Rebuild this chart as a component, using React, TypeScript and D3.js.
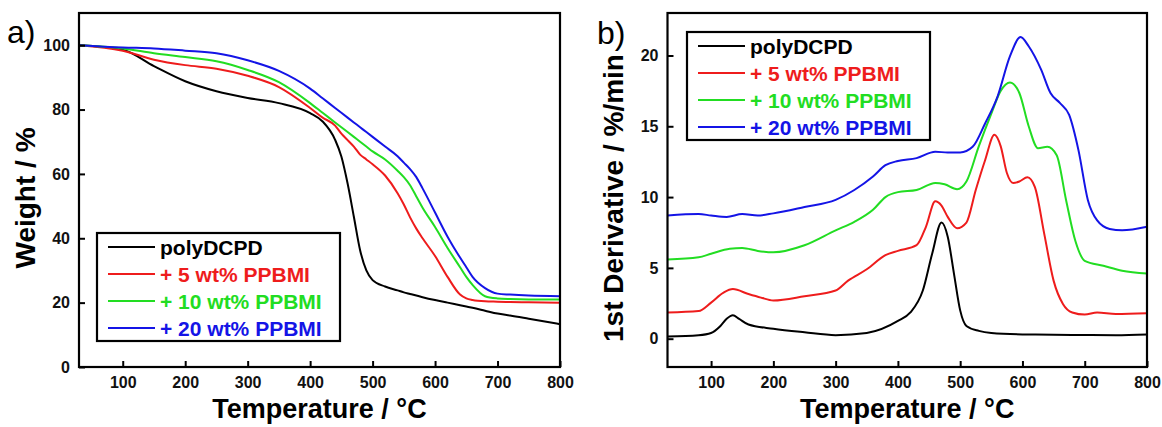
import * as d3 from "d3";
import { useEffect, useRef } from "react";

// TGA (weight %) — temperature in °C
const tgaTemp = [30, 100, 150, 200, 250, 300, 350, 400, 420, 440, 450, 460, 470, 480, 490, 500, 520, 540, 550, 560, 570, 580, 600, 620, 640, 650, 660, 680, 700, 720, 750, 800];
const tgaPoly = [100, 98.6, 93.5, 88.8, 85.7, 83.6, 82, 78.9, 76.3, 70.6, 65.4, 57, 46.7, 36.3, 30, 27, 25, 23.8, 23.2, 22.7, 22.2, 21.7, 20.8, 20, 19.2, 18.8, 18.4, 17.5, 16.6, 16, 15, 13.3];
const tga5 = [100, 98.3, 95.5, 93.8, 92.7, 90.5, 87, 80.5, 77.5, 75, 72.5, 70.5, 68.5, 66, 64.5, 63, 59.5, 54, 50.5, 46.5, 43, 40, 34.5, 28, 22.5, 21.3, 20.8, 20.4, 20.3, 20.2, 20.1, 20];
const tga10 = [100, 99, 97.5, 96.3, 95, 92.3, 88.5, 82, 79, 76, 74.5, 73, 71.5, 70, 68.5, 67, 64.5, 61, 59, 56.5, 53, 49.5, 43.5, 37, 31, 28, 25.5, 22, 21.3, 21.1, 21, 21];
const tga20 = [100, 99.3, 99, 98.3, 97.5, 95.3, 92, 86.5, 83.5, 80.5, 79, 77.5, 76, 74.5, 73, 71.5, 68.5, 65.5, 63.5, 61.5, 59, 55.5, 48, 40.5, 34, 31, 28, 24.5, 22.8, 22.5, 22.2, 22];

// DTG (1st derivative, %/min)
const dtgPolyT = [30, 80, 100, 115, 125, 135, 145, 160, 200, 250, 300, 350, 400, 420, 440, 455, 470, 480, 490, 500, 510, 530, 550, 600, 650, 700, 750, 800];
const dtgPolyV = [0.15, 0.24, 0.4, 0.9, 1.4, 1.65, 1.4, 1.0, 0.7, 0.45, 0.25, 0.4, 1.25, 1.85, 3.4, 6, 8.2, 7.2, 4.6, 2, 0.9, 0.55, 0.4, 0.3, 0.28, 0.26, 0.25, 0.3];
const dtg5T = [30, 80, 100, 120, 135, 160, 180, 200, 250, 300, 320, 350, 380, 400, 430, 445, 460, 470, 480, 495, 510, 525, 540, 555, 565, 575, 585, 595, 608, 620, 635, 650, 665, 680, 700, 720, 750, 800];
const dtg5V = [1.85, 1.95, 2.55, 3.25, 3.5, 3.15, 2.9, 2.7, 3.0, 3.4, 4.1, 4.9, 5.9, 6.2, 6.6, 7.9, 9.7, 9.4, 8.6, 7.8, 8.2, 10.5, 12.6, 14.4, 13.6, 11.7, 11, 11.1, 11.4, 10.7, 7.4, 4.1, 2.45, 1.85, 1.7, 1.85, 1.75, 1.8];
const dtg10T = [30, 80, 100, 130, 150, 175, 200, 250, 300, 330, 360, 380, 400, 430, 460, 475, 495, 510, 530, 550, 565, 580, 595, 610, 625, 640, 655, 670, 685, 700, 730, 760, 800];
const dtg10V = [5.6, 5.75, 6.0, 6.35, 6.4, 6.2, 6.1, 6.6, 7.65, 8.25, 9.1, 10, 10.35, 10.5, 11, 10.9, 10.55, 11.1, 13.6, 15.9, 17.5, 18.1, 17.35, 15, 13.45, 13.55, 12.95, 9.8, 6.9, 5.5, 5.15, 4.8, 4.6];
const dtg20T = [30, 80, 100, 125, 150, 175, 200, 250, 300, 330, 360, 380, 400, 430, 460, 480, 500, 520, 540, 560, 580, 597, 610, 630, 645, 660, 675, 690, 705, 720, 740, 760, 800];
const dtg20V = [8.7, 8.8, 8.7, 8.6, 8.8, 8.7, 8.85, 9.3, 9.8, 10.5, 11.45, 12.25, 12.55, 12.75, 13.2, 13.15, 13.15, 13.55, 15.2, 17.1, 19.95, 21.3, 20.65, 19, 17.35, 16.65, 15.8, 13.3, 9.8, 8.35, 7.75, 7.65, 7.9];

const seriesNames = ["polyDCPD", "+ 5 wt% PPBMI", "+ 10 wt% PPBMI", "+ 20 wt% PPBMI"];
const seriesColors = ["#000000", "#ee1c1c", "#22dd22", "#1414e6"];
const xTicks = [100, 200, 300, 400, 500, 600, 700, 800];

const FONT = "'Liberation Sans', Arial, sans-serif";

type Series = { t: number[]; v: number[] };

function drawPanel(
  svg: d3.Selection<SVGGElement, unknown, null, undefined>,
  opts: {
    left: number; right: number; top: number; bottom: number;
    yDomain: [number, number]; yTicks: number[];
    series: Series[]; yLabel: string; yLabelX: number;
    panelLabel: string; panelX: number; panelY: number;
    legendX: number; legendY: number;
  }
) {
  const x = d3.scaleLinear().domain([30, 800]).range([opts.left, opts.right]);
  const y = d3.scaleLinear().domain(opts.yDomain).range([opts.bottom, opts.top]);

  // кривые
  const line = d3.line<[number, number]>()
    .x(d => x(d[0]))
    .y(d => y(d[1]))
    .curve(d3.curveMonotoneX);

  opts.series.forEach((s, i) => {
    svg.append("path")
      .datum(s.t.map((t, k) => [t, s.v[k]] as [number, number]))
      .attr("d", line)
      .attr("fill", "none")
      .attr("stroke", seriesColors[i])
      .attr("stroke-width", 2);
  });

  // рамка
  svg.append("rect")
    .attr("x", opts.left)
    .attr("y", opts.top)
    .attr("width", opts.right - opts.left)
    .attr("height", opts.bottom - opts.top)
    .attr("fill", "none")
    .attr("stroke", "#000")
    .attr("stroke-width", 2.2);

  // ось X
  const gx = svg.append("g")
    .attr("transform", `translate(0,${opts.bottom})`)
    .call(d3.axisBottom(x).tickValues(xTicks).tickSize(-6).tickPadding(10).tickFormat(d3.format("d")));
  gx.select(".domain").remove();
  gx.selectAll("line").attr("stroke-width", 2);
  gx.selectAll("text")
    .attr("font-family", FONT)
    .attr("font-weight", "bold")
    .attr("font-size", 16)
    .attr("fill", "#111");

  // ось Y
  const gy = svg.append("g")
    .attr("transform", `translate(${opts.left},0)`)
    .call(d3.axisLeft(y).tickValues(opts.yTicks).tickSize(-6).tickPadding(9).tickFormat(d3.format("d")));
  gy.select(".domain").remove();
  gy.selectAll("line").attr("stroke-width", 2);
  gy.selectAll("text")
    .attr("font-family", FONT)
    .attr("font-weight", "bold")
    .attr("font-size", 16)
    .attr("fill", "#111");

  // подписи осей
  svg.append("text")
    .attr("x", (opts.left + opts.right) / 2)
    .attr("y", 418)
    .attr("text-anchor", "middle")
    .attr("font-family", FONT)
    .attr("font-weight", "bold")
    .attr("font-size", 27)
    .text("Temperature / °C");

  svg.append("text")
    .attr("transform", `translate(${opts.yLabelX},${(opts.top + opts.bottom) / 2 + 8}) rotate(-90)`)
    .attr("text-anchor", "middle")
    .attr("font-family", FONT)
    .attr("font-weight", "bold")
    .attr("font-size", 28)
    .text(opts.yLabel);

  svg.append("text")
    .attr("x", opts.panelX)
    .attr("y", opts.panelY)
    .attr("font-family", FONT)
    .attr("font-size", 32)
    .text(opts.panelLabel);

  // легенда
  const lg = svg.append("g").attr("transform", `translate(${opts.legendX},${opts.legendY})`);
  lg.append("rect")
    .attr("width", 243)
    .attr("height", 108)
    .attr("fill", "#fff")
    .attr("stroke", "#000")
    .attr("stroke-width", 2.2);
  seriesNames.forEach((name, i) => {
    const cy = 14 + i * 27;
    lg.append("line")
      .attr("x1", 11).attr("x2", 58)
      .attr("y1", cy).attr("y2", cy)
      .attr("stroke", seriesColors[i])
      .attr("stroke-width", 2);
    lg.append("text")
      .attr("x", 63)
      .attr("y", cy + 7.5)
      .attr("font-family", FONT)
      .attr("font-weight", "bold")
      .attr("font-size", 21)
      .attr("fill", seriesColors[i])
      .text(name);
  });
}

const App = () => {
  const ref = useRef<SVGSVGElement>(null);

  useEffect(() => {
    const root = d3.select(ref.current);
    root.selectAll("*").remove();
    const g = root.append("g") as unknown as d3.Selection<SVGGElement, unknown, null, undefined>;

    drawPanel(g, {
      left: 79, right: 560, top: 13, bottom: 367,
      yDomain: [0, 110], yTicks: [0, 20, 40, 60, 80, 100],
      series: [
        { t: tgaTemp, v: tgaPoly },
        { t: tgaTemp, v: tga5 },
        { t: tgaTemp, v: tga10 },
        { t: tgaTemp, v: tga20 },
      ],
      yLabel: "Weight / %", yLabelX: 35,
      panelLabel: "a)", panelX: 7, panelY: 43,
      legendX: 97, legendY: 233,
    });

    drawPanel(g, {
      left: 667.5, right: 1147, top: 13, bottom: 367,
      yDomain: [-2, 23], yTicks: [0, 5, 10, 15, 20],
      series: [
        { t: dtgPolyT, v: dtgPolyV },
        { t: dtg5T, v: dtg5V },
        { t: dtg10T, v: dtg10V },
        { t: dtg20T, v: dtg20V },
      ],
      yLabel: "1st Derivative / %/min", yLabelX: 623,
      panelLabel: "b)", panelX: 597, panelY: 44,
      legendX: 687, legendY: 32,
    });
  }, []);

  return (
    <svg
      ref={ref}
      width={1162}
      height={427}
      style={{ position: "absolute", left: 0, top: 0, background: "#fff" }}
    />
  );
};

export default App;
